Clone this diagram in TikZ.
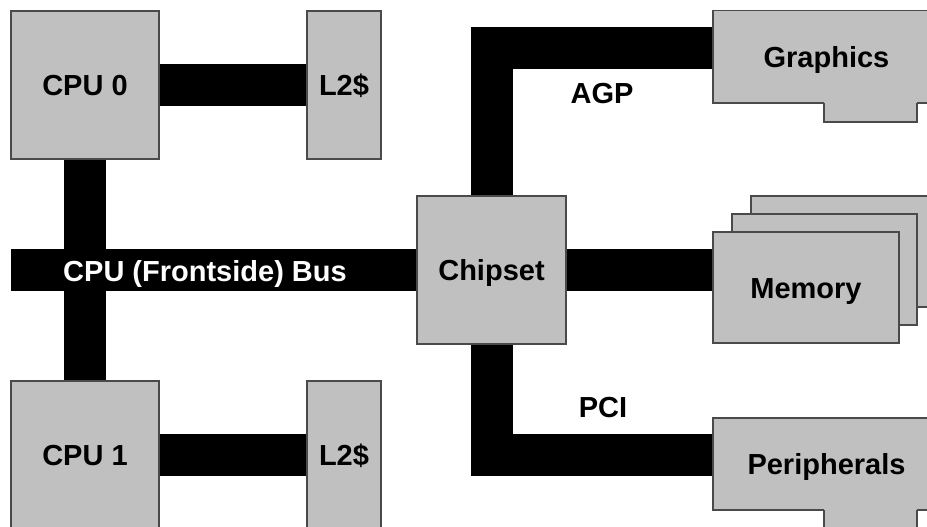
\documentclass[tikz,border=0pt]{standalone}
\usepackage{fontspec}
\setmainfont{Liberation Sans}
\usetikzlibrary{backgrounds}
\definecolor{boxgray}{HTML}{C0C0C0}
\definecolor{edgegray}{HTML}{4A4A4A}
\begin{document}
\begin{tikzpicture}[x=1pt,y=-1pt,
  lblfont/.style={font=\bfseries\fontsize{29}{34}\selectfont, text height=21pt, text depth=0pt},
  card/.style={draw=edgegray, fill=boxgray, line width=1.2pt, inner sep=0pt, lblfont},
  bus/.style={line width=42pt, draw=black, line join=miter},
  lbl/.style={inner sep=0pt, lblfont},
  buslbl/.style={inner sep=0pt, lblfont, text=white}]
\useasboundingbox (0,0) rectangle (927,527);
\clip (0,0) rectangle (927,527);
% processors and caches
\node[card, minimum width=148pt, minimum height=148pt] (cpu0) at (85,85) {CPU 0};
\node[card, minimum width=74pt, minimum height=148pt] (l2a) at (344,85) {L2\$};
\node[card, minimum width=148pt, minimum height=148pt] (cpu1) at (85,455) {CPU 1};
\node[card, minimum width=74pt, minimum height=148pt] (l2b) at (344,455) {L2\$};
\node[card, minimum width=149pt, minimum height=148pt] (chip) at (491.5,270) {Chipset};
% graphics card
\node[card, minimum width=227pt, minimum height=92.5pt] (gfx) at (826.5,56.75) {Graphics};
\fill[boxgray] (824,102) rectangle (917,122);
\draw[draw=edgegray, line width=1.2pt] (824,103) -- (824,122) -- (917,122) -- (917,103);
% memory stack
\node[card, minimum width=185pt, minimum height=111pt] (memback) at (843.5,251.5) {};
\node[card, minimum width=185pt, minimum height=111pt] (memmid) at (824.5,269.5) {};
\node[card, minimum width=186pt, minimum height=111pt] (mem) at (806,287.5) {Memory};
% peripherals card
\node[card, minimum width=227pt, minimum height=92pt] (periph) at (826.5,464) {Peripherals};
\fill[boxgray] (824,509) rectangle (917,535);
\draw[draw=edgegray, line width=1.2pt] (824,510) -- (824,535) (917,535) -- (917,510);
% buses
\coordinate (busend) at (11,270);
\begin{scope}[on background layer]
\draw[bus] (cpu0.east) -- (l2a.west);
\draw[bus] (cpu1.east) -- (l2b.west);
\draw[bus] (cpu0.south) -- (cpu1.north);
\draw[bus] (busend) -- (chip.west);
\draw[bus] (chip.east) -- (chip.east -| mem.west);
\draw[bus] (chip.north) |- ([yshift=8.75pt]gfx.west);
\draw[bus] (chip.south) |- ([yshift=9pt]periph.west);
\end{scope}
% labels
\node[buslbl] (fsb) at (205,271) {CPU (Frontside) Bus};
\node[lbl] (agp) at (602,93) {AGP};
\node[lbl] (pci) at (603,407) {PCI};
\end{tikzpicture}
\end{document}
